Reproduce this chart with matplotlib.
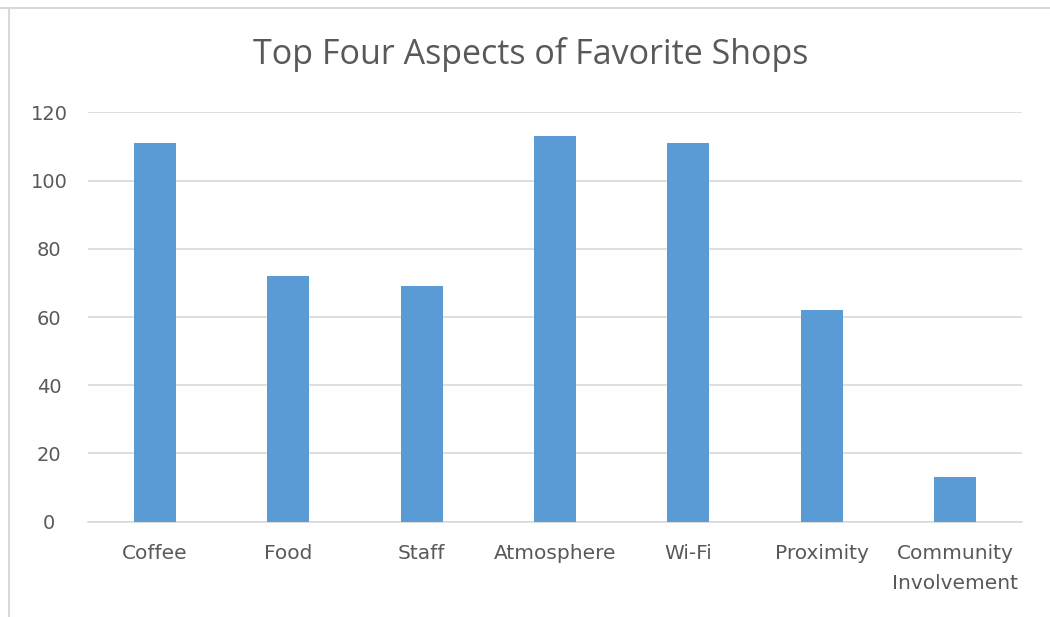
import matplotlib
matplotlib.use("Agg")
import matplotlib.pyplot as plt
from matplotlib.lines import Line2D

categories = ["Coffee", "Food", "Staff", "Atmosphere", "Wi-Fi", "Proximity", "Community\nInvolvement"]
values = [111, 72, 69, 113, 111, 62, 13]
yticks = [0, 20, 40, 60, 80, 100, 120]
title = "Top Four Aspects of Favorite Shops"

W, H = 1050, 617
fig = plt.figure(figsize=(W / 100, H / 100), dpi=100)
fig.patch.set_facecolor("white")

ax = fig.add_axes([88 / W, 1 - 521.7 / H, (1022 - 88) / W, (521.7 - 112.3) / H])
x = list(range(len(categories)))
ax.bar(x, values, width=0.315, color="#5B9BD5", zorder=3)
ax.set_xlim(-0.5, len(categories) - 0.5)
ax.set_ylim(0, 120)
ax.set_yticks(yticks)
ax.set_yticklabels([str(v) for v in yticks])
ax.set_xticks(x)
ax.set_xticklabels(categories, linespacing=1.75)
ax.grid(axis="y", color="#D9D9D9", linewidth=1.2, zorder=0)
for s in ["top", "right", "left"]:
    ax.spines[s].set_visible(False)
ax.spines["bottom"].set_color("#D9D9D9")
ax.spines["bottom"].set_linewidth(1.2)
ax.tick_params(axis="x", length=0, labelsize=14.5, labelcolor="#595959", pad=16)
ax.tick_params(axis="y", length=0, labelsize=14, labelcolor="#595959", pad=28)
for lbl in ax.get_xticklabels() + ax.get_yticklabels():
    lbl.set_family("DejaVu Sans")
for lbl in ax.get_yticklabels():
    lbl.set_horizontalalignment("center")

fig.text(531 / W, 1 - 55 / H, title, ha="center", va="center",
         fontsize=24.5, color="#595959", family="Open Sans")

fig.add_artist(Line2D([0, 1], [1 - 7.5 / H, 1 - 7.5 / H], transform=fig.transFigure,
                      color="#D9D9D9", linewidth=1.5))
fig.add_artist(Line2D([9 / W, 9 / W], [0, 1 - 7.5 / H], transform=fig.transFigure,
                      color="#D9D9D9", linewidth=1.5))

fig.savefig("out.png", dpi=100)
